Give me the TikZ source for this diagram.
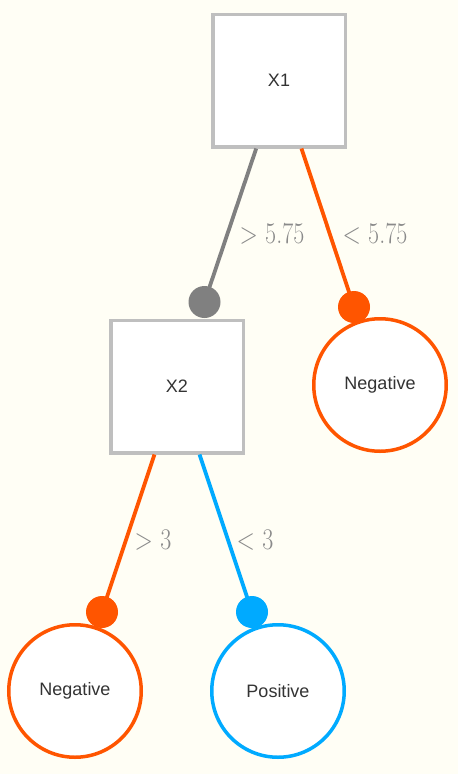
\documentclass[tikz,border=0pt]{standalone}
\usepackage{fontspec}
\setsansfont{Liberation Sans}
\definecolor{bgcream}{HTML}{FFFEF5}
\definecolor{boxgray}{HTML}{BFBFBF}
\definecolor{edgegray}{HTML}{808080}
\definecolor{labelgray}{HTML}{8A8A8A}
\definecolor{negorange}{HTML}{FF5500}
\definecolor{posblue}{HTML}{00AAFF}
\definecolor{txtdark}{HTML}{333333}
\newcommand{\myBranch}[3]{
\draw[edgeline, #2] (#1) -- (#3);
\fill[#2] (#3) circle (16);
}
\newcommand{\myCond}[1]{\scalebox{0.8}[1]{#1}}
\tikzset{
  splitbox/.style={draw=boxgray, fill=white, line width=3.5pt, minimum size=132.5pt,
    inner sep=0pt, font=\sffamily\fontsize{18}{20}\selectfont, text=txtdark},
  leafnode/.style={circle, draw=#1, fill=white, line width=3.5pt, minimum size=132.5pt,
    inner sep=0pt, font=\sffamily\fontsize{18}{20}\selectfont, text=txtdark},
  edgeline/.style={line width=3.8pt},
  condlabel/.style={text=labelgray, inner sep=0pt,
    font=\rmfamily\fontsize{30}{32}\selectfont}
}

\begin{document}
\begin{tikzpicture}[x=1pt, y=-1pt]
	\fill[bgcream] (0,0) rectangle (458,774);
	\useasboundingbox (0,0) rectangle (458,774);
	% split nodes
	\node[splitbox] (x1) at (279,80.5) {X1};
	\node[splitbox] (x2) at (177,386.5) {X2};
	% leaves
	\node[leafnode=negorange] (negA) at (380,385) {Negative};
	\node[leafnode=negorange] (negB) at (75,691) {Negative};
	\node[leafnode=posblue] (posA) at (278,691) {Positive};
	% ends of the branches
	\coordinate (dotG) at (204.5,302);
	\coordinate (dotA) at (354,307);
	\coordinate (dotB) at (102,612);
	\coordinate (dotC) at (252,612);
	% drawing branches
	\myBranch{x1}{edgegray}{dotG}
	\myBranch{x1}{negorange}{dotA}
	\myBranch{x2}{negorange}{dotB}
	\myBranch{x2}{posblue}{dotC}
	% branch labels
	\node[condlabel] (lgA) at (272,234) {\myCond{> 5.75}};
	\node[condlabel] (lgB) at (375,234) {\myCond{< 5.75}};
	\node[condlabel] (lgC) at (153,540) {\myCond{> 3}};
	\node[condlabel] (lgD) at (255,540) {\myCond{< 3}};
\end{tikzpicture}
\end{document}
